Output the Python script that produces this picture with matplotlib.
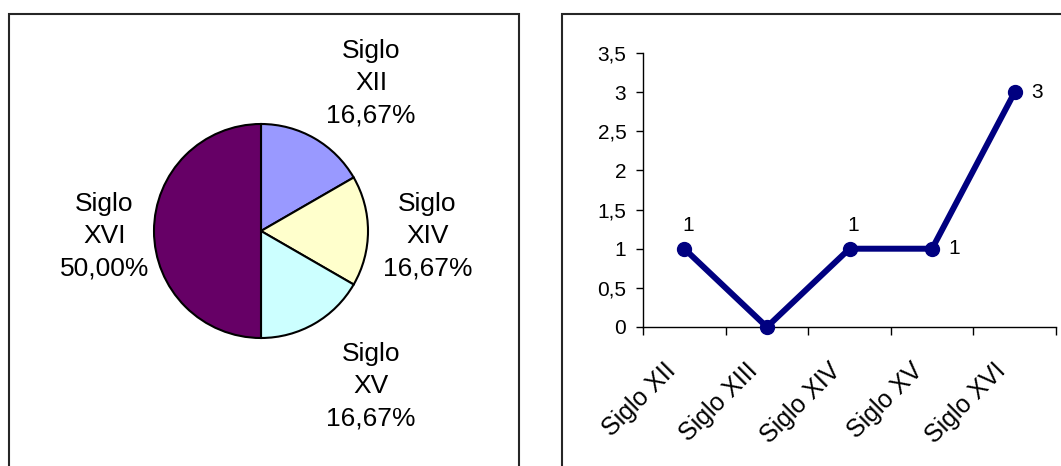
import matplotlib
matplotlib.use("Agg")
import matplotlib.pyplot as plt
from matplotlib.patches import Rectangle
from matplotlib.ticker import FuncFormatter, FixedLocator, NullFormatter
import numpy as np

plt.rcParams['font.family'] = ['Liberation Sans', 'DejaVu Sans']

categories = ["Siglo XII", "Siglo XIII", "Siglo XIV", "Siglo XV", "Siglo XVI"]
values = [1, 0, 1, 1, 3]
pie_colors = ["#9999FF", "#993366", "#FFFFCC", "#CCFFFF", "#660066"]
yticks = [0, 0.5, 1, 1.5, 2, 2.5, 3, 3.5]
line_label_pos = ["above", None, "above", "right", "right"]
# pie label centres in pie-radius units (layout only)
pie_label_xy = [(1.03, 1.38), (1.555, -0.05), (1.03, -1.45), (-1.463, -0.05)]

W, H = 1061, 466
fig = plt.figure(figsize=(W / 100, H / 100), dpi=100)

def fx(px):
    return px / W

def fy(py):
    return 1 - py / H

# Frames
frame_kw = dict(transform=fig.transFigure, fill=False, edgecolor="#262626", linewidth=1.5)
fig.patches.append(Rectangle((fx(9), fy(470)), fx(519) - fx(9), fy(14) - fy(470), **frame_kw))
fig.patches.append(Rectangle((fx(562), fy(470)), fx(1070) - fx(562), fy(14) - fy(470), **frame_kw))

# Pie chart
pie_vals = [v for v in values if v > 0]
pie_cats = [c for c, v in zip(categories, values) if v > 0]
pie_cols = [col for col, v in zip(pie_colors, values) if v > 0]
r_px = 107
axp = fig.add_axes([fx(261 - r_px), fy(231 + r_px), 2 * r_px / W, 2 * r_px / H])
wedges, _ = axp.pie(pie_vals, colors=pie_cols, startangle=90, counterclock=False,
                    wedgeprops=dict(edgecolor="black", linewidth=1.5))
axp.set_xlim(-1, 1)
axp.set_ylim(-1, 1)
axp.set_aspect("equal")
total = sum(pie_vals)
for (x, y), cat, v in zip(pie_label_xy, pie_cats, pie_vals):
    pct = f"{100 * v / total:.2f}".replace(".", ",") + "%"
    name, num = cat.split(" ")
    axp.text(x, y, f"{name}\n{num}\n{pct}", ha="center", va="center", multialignment="center",
             fontsize=19, linespacing=1.45, clip_on=False)

# Line chart
axl = fig.add_axes([fx(643), fy(327), fx(1056) - fx(643), fy(53) - fy(327)])
xpos = np.arange(len(categories)) + 0.5
axl.plot(xpos, values, color="#000080", linewidth=4.3, marker="o", markersize=10,
         zorder=3, clip_on=False)
axl.set_xlim(0, len(categories))
axl.set_ylim(0, 3.5)
axl.yaxis.set_major_locator(FixedLocator(yticks))
axl.yaxis.set_major_formatter(FuncFormatter(lambda v, p: f"{v:g}".replace(".", ",")))
axl.xaxis.set_major_locator(FixedLocator(np.arange(len(categories) + 1)))
axl.xaxis.set_major_formatter(NullFormatter())
axl.tick_params(axis="x", which="major", length=6, width=1, direction="out")
axl.tick_params(axis="y", length=5, width=1, direction="out", labelsize=15, pad=7)
for sp in ["top", "right"]:
    axl.spines[sp].set_visible(False)
axl.spines["left"].set_linewidth(1)
axl.spines["bottom"].set_linewidth(1)
axl.patch.set_alpha(0)

# category labels, rotated, anchored at their right end below each category
for xp, cat in zip(xpos, categories):
    axl.annotate(cat, (xp, 0), xytext=(-9, -29), textcoords="offset points",
                 rotation=45, rotation_mode="anchor", ha="right", va="center",
                 fontsize=18, annotation_clip=False)

for xp, v, pos in zip(xpos, values, line_label_pos):
    if pos is None or v == 0:
        continue
    if pos == "above":
        axl.annotate(f"{v}", (xp, v), xytext=(2.5, 17), textcoords="offset points",
                     ha="center", va="center", fontsize=15)
    else:
        axl.annotate(f"{v}", (xp, v), xytext=(12, 0), textcoords="offset points",
                     ha="left", va="center", fontsize=15)

fig.savefig("out.png", dpi=100)
